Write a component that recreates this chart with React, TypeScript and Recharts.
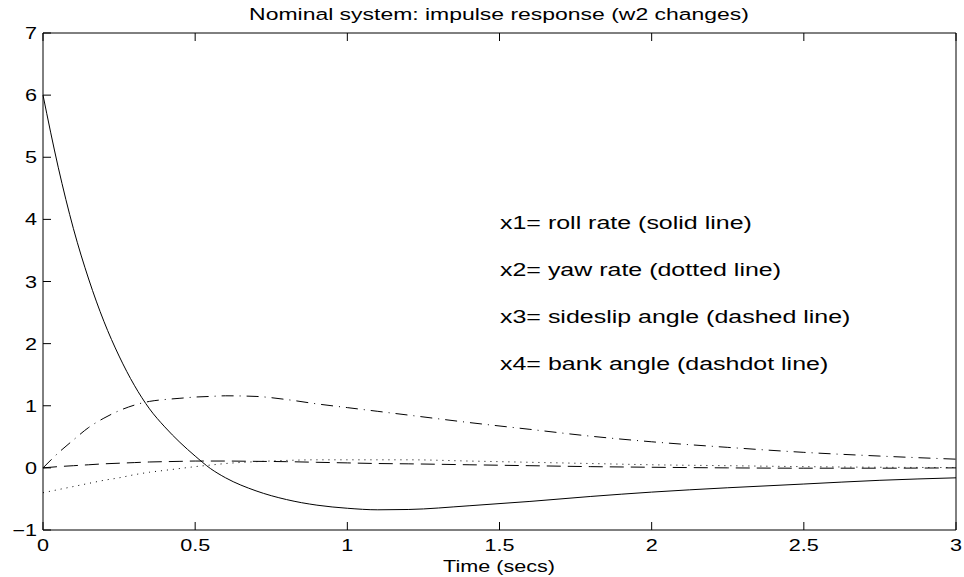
import React from 'react';
import { LineChart, Line, XAxis, YAxis } from 'recharts';

// time samples (secs)
const TIME = [0, 0.05, 0.1, 0.15, 0.2, 0.25, 0.3, 0.35, 0.4, 0.45, 0.5, 0.55, 0.6, 0.7, 0.8, 0.9, 1.0, 1.1, 1.2, 1.4, 1.6, 1.8, 2.0, 2.25, 2.5, 2.75, 3.0];

// x1 roll rate (solid)
const ROLL_RATE = [6.0, 4.84, 3.85, 3.04, 2.36, 1.8, 1.33, 0.95, 0.66, 0.41, 0.19, -0.01, -0.16, -0.37, -0.51, -0.6, -0.65, -0.675, -0.67, -0.61, -0.54, -0.46, -0.39, -0.32, -0.26, -0.2, -0.16];
// x2 yaw rate (dotted)
const YAW_RATE = [-0.4, -0.35, -0.3, -0.25, -0.2, -0.16, -0.11, -0.07, -0.04, -0.01, 0.02, 0.045, 0.07, 0.1, 0.12, 0.13, 0.13, 0.13, 0.13, 0.11, 0.09, 0.07, 0.05, 0.035, 0.02, 0.01, 0.005];
// x3 sideslip angle (dashed)
const SIDESLIP = [0, 0.02, 0.035, 0.05, 0.065, 0.075, 0.085, 0.095, 0.1, 0.105, 0.11, 0.11, 0.11, 0.105, 0.1, 0.09, 0.08, 0.07, 0.065, 0.05, 0.035, 0.02, 0.01, 0.0, -0.005, -0.005, 0.0];
// x4 bank angle (dashdot)
const BANK_ANGLE = [0, 0.24, 0.45, 0.65, 0.8, 0.92, 1.01, 1.07, 1.1, 1.12, 1.14, 1.15, 1.16, 1.15, 1.1, 1.03, 0.97, 0.91, 0.85, 0.73, 0.62, 0.51, 0.42, 0.33, 0.25, 0.19, 0.14];

const X_TICKS = [0, 0.5, 1, 1.5, 2, 2.5, 3];
const Y_TICKS = [-1, 0, 1, 2, 3, 4, 5, 6, 7];

const TITLE = 'Nominal system: impulse response (w2 changes)';
const X_LABEL = 'Time (secs)';
const NOTES = [
  'x1= roll rate (solid line)',
  'x2= yaw rate (dotted line)',
  'x3= sideslip angle (dashed line)',
  'x4= bank angle (dashdot line)',
];

const rows = TIME.map((t, i) => ({
  t,
  x1: ROLL_RATE[i],
  x2: YAW_RATE[i],
  x3: SIDESLIP[i],
  x4: BANK_ANGLE[i],
}));

const FONT = '"Liberation Sans", Arial, Helvetica, sans-serif';
const SX = 1.35; // the original figure is stretched sideways

const fmt = (v: number) => String(v).replace('-', '\u2212');

const XTick = (props: any) => {
  const { x, y, payload } = props;
  return (
    <text transform={`translate(${x},${y + 29}) scale(${SX},1)`} textAnchor="middle" fontFamily={FONT} fontSize={16} fill="#000">
      {fmt(payload.value)}
    </text>
  );
};

const YTick = (props: any) => {
  const { x, y, payload } = props;
  return (
    <text transform={`translate(${x - 14},${y + 6}) scale(${SX},1)`} textAnchor="end" fontFamily={FONT} fontSize={16} fill="#000">
      {fmt(payload.value)}
    </text>
  );
};

const Empty = () => <g />;

export default function App() {
  return (
    <div style={{ position: 'absolute', left: 0, top: 0, width: 964, height: 577, background: '#fff' }}>
      <LineChart width={964} height={577} data={rows} margin={{ top: 32, right: 7, bottom: 0, left: 0 }}>
        <XAxis
          xAxisId="b"
          dataKey="t"
          type="number"
          domain={[0, 3]}
          ticks={X_TICKS}
          orientation="bottom"
          height={47}
          tickSize={-8}
          tickMargin={0}
          stroke="#000"
          tick={<XTick />}
          interval={0}
        />
        <XAxis
          xAxisId="top"
          dataKey="t"
          type="number"
          domain={[0, 3]}
          ticks={X_TICKS}
          orientation="top"
          height={1}
          tickSize={-8}
          tickMargin={0}
          stroke="#000"
          tick={<Empty />}
          interval={0}
        />
        <YAxis
          yAxisId="l"
          type="number"
          domain={[-1, 7]}
          ticks={Y_TICKS}
          orientation="left"
          width={43}
          tickSize={-8}
          tickMargin={0}
          stroke="#000"
          tick={<YTick />}
          interval={0}
        />
        <YAxis
          yAxisId="r"
          type="number"
          domain={[-1, 7]}
          ticks={Y_TICKS}
          orientation="right"
          width={1}
          tickSize={-8}
          tickMargin={0}
          stroke="#000"
          tick={<Empty />}
          interval={0}
        />
        <Line xAxisId="b" yAxisId="l" type="monotone" dataKey="x1" stroke="#000" strokeWidth={1} dot={false} activeDot={false} isAnimationActive={false} />
        <Line xAxisId="b" yAxisId="l" type="monotone" dataKey="x2" stroke="#000" strokeWidth={1} strokeDasharray="1 5" dot={false} activeDot={false} isAnimationActive={false} />
        <Line xAxisId="b" yAxisId="l" type="monotone" dataKey="x3" stroke="#000" strokeWidth={1} strokeDasharray="14 7" dot={false} activeDot={false} isAnimationActive={false} />
        <Line xAxisId="b" yAxisId="l" type="monotone" dataKey="x4" stroke="#000" strokeWidth={1} strokeDasharray="12 6 1 6" dot={false} activeDot={false} isAnimationActive={false} />
      </LineChart>
      <svg width={964} height={577} style={{ position: 'absolute', left: 0, top: 0, pointerEvents: 'none' }}>
        <text transform={`translate(499,20) scale(${SX},1)`} textAnchor="middle" fontFamily={FONT} fontSize={17} fill="#000">
          {TITLE}
        </text>
        <text transform={`translate(499,572) scale(${SX},1)`} textAnchor="middle" fontFamily={FONT} fontSize={16} fill="#000">
          {X_LABEL}
        </text>
        {NOTES.map((n, i) => (
          <text key={n} transform={`translate(500,${229 + i * 47}) scale(${SX},1)`} fontFamily={FONT} fontSize={18.5} fill="#000">
            {n}
          </text>
        ))}
      </svg>
    </div>
  );
}
